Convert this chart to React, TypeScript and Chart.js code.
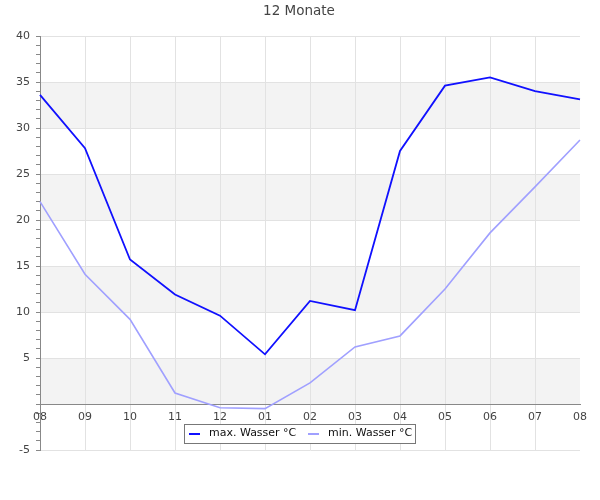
import React, { useEffect, useRef } from "react";
import { Chart, registerables } from "chart.js";

Chart.register(...registerables);

const categories = ["08", "09", "10", "11", "12", "01", "02", "03", "04", "05", "06", "07", "08"];
const maxWasser = [33.6, 27.8, 15.7, 11.9, 9.6, 5.4, 11.2, 10.2, 27.5, 34.6, 35.5, 34.0, 33.1];
const minWasser = [22.0, 14.1, 9.2, 1.2, -0.4, -0.5, 2.3, 6.2, 7.4, 12.5, 18.6, 23.6, 28.7];
const seriesNames = ["max. Wasser °C", "min. Wasser °C"];
const seriesColors = ["#1010ff", "#a0a0ff"];
const titleText = "12 Monate";
const FONT = "'DejaVu Sans', sans-serif";

const bandsPlugin = {
  id: "bands",
  beforeDraw(chart: any) {
    const { ctx, chartArea } = chart;
    const y = chart.scales.y;
    ctx.save();
    ctx.fillStyle = "#f3f3f3";
    for (let v = 0; v < 40; v += 10) {
      const top = y.getPixelForValue(v + 5);
      const bot = y.getPixelForValue(v);
      ctx.fillRect(chartArea.left, top, chartArea.right - chartArea.left, bot - top);
    }
    ctx.restore();
  },
};

const decorPlugin = {
  id: "decor",
  afterDraw(chart: any) {
    const { ctx } = chart;
    ctx.save();
    // title
    ctx.fillStyle = "#444";
    ctx.font = `13.5px ${FONT}`;
    ctx.textAlign = "center";
    ctx.textBaseline = "middle";
    ctx.fillText(titleText, 299, 11);
    // legend
    const bx = 184, by = 424, bw = 231, bh = 19;
    ctx.fillStyle = "#ffffff";
    ctx.fillRect(bx, by, bw, bh);
    ctx.strokeStyle = "#777";
    ctx.lineWidth = 1;
    ctx.strokeRect(bx + 0.5, by + 0.5, bw, bh);
    ctx.font = `11px ${FONT}`;
    ctx.textAlign = "left";
    const items = [
      { sx: 189, tx: 209 },
      { sx: 308, tx: 328 },
    ];
    items.forEach((it, i) => {
      ctx.strokeStyle = seriesColors[i];
      ctx.lineWidth = 2;
      ctx.beginPath();
      ctx.moveTo(it.sx, by + 10);
      ctx.lineTo(it.sx + 11, by + 10);
      ctx.stroke();
      ctx.fillStyle = "#111";
      ctx.fillText(seriesNames[i], it.tx, by + 9.5);
    });
    ctx.restore();
  },
};

export default function App() {
  const ref = useRef<HTMLCanvasElement>(null);
  useEffect(() => {
    const chart = new Chart(ref.current as HTMLCanvasElement, {
      type: "line",
      data: {
        labels: categories,
        datasets: [
          {
            label: seriesNames[0],
            data: maxWasser,
            borderColor: seriesColors[0],
            backgroundColor: seriesColors[0],
            borderWidth: 1.8,
            pointRadius: 0,
            tension: 0,
          },
          {
            label: seriesNames[1],
            data: minWasser,
            borderColor: seriesColors[1],
            backgroundColor: seriesColors[1],
            borderWidth: 1.6,
            pointRadius: 0,
            tension: 0,
          },
        ],
      },
      options: {
        responsive: false,
        animation: false,
        layout: { padding: { top: 36, left: 0, right: 20, bottom: 50 } },
        plugins: {
          legend: { display: false },
          title: { display: false },
          tooltip: { enabled: false },
        },
        scales: {
          x: {
            type: "category",
            position: { y: 0 } as any,
            offset: false,
            grid: {
              color: (c: any) => (c.index === categories.length - 1 ? "rgba(0,0,0,0)" : "#e2e2e2"),
              drawTicks: false,
            },
            border: { color: "#888", width: 1 },
            ticks: {
              color: "#444",
              font: { family: FONT, size: 11 },
              padding: 7,
              maxRotation: 0,
              autoSkip: false,
            },
          },
          y: {
            type: "linear",
            min: -5,
            max: 40,
            afterFit(scale: any) {
              scale.width = 40;
            },
            grid: {
              color: (c: any) => (c.tick && c.tick.value % 5 === 0 ? "#e2e2e2" : "rgba(0,0,0,0)"),
              tickColor: "#888",
              tickLength: 4,
              drawTicks: true,
            },
            border: { color: "#888", width: 1 },
            ticks: {
              stepSize: 1,
              maxTicksLimit: 100,
              autoSkip: false,
              color: "#444",
              font: { family: FONT, size: 11 },
              padding: 6,
              callback: (v: any) => (Number(v) % 5 === 0 && Number(v) !== 0 ? String(v) : ""),
            },
          },
        },
      },
      plugins: [bandsPlugin, decorPlugin],
    });
    return () => chart.destroy();
  }, []);
  return (
    <div style={{ position: "absolute", left: 0, top: 0, width: 600, height: 500 }}>
      <canvas ref={ref} width={600} height={500} />
    </div>
  );
}
